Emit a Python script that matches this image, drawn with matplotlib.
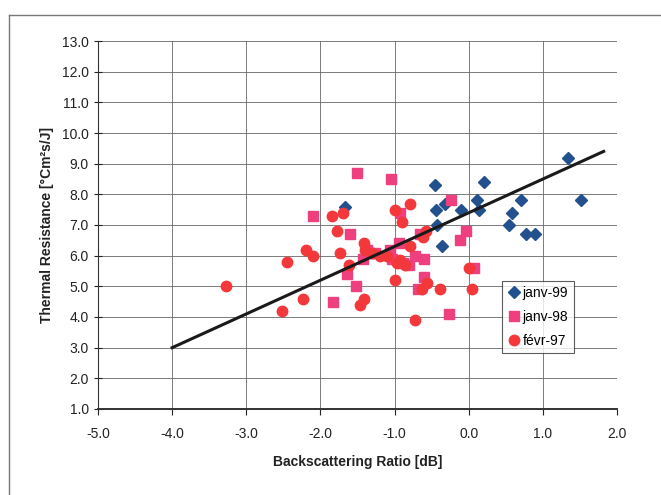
import matplotlib.pyplot as plt
from matplotlib.lines import Line2D

plt.rcParams['font.family'] = ['Liberation Sans', 'DejaVu Sans']

# janv-99 (diamonds)
x99 = [-1.67, -0.45, -0.44, -0.32, -0.43, -0.36, -0.11, 0.11, 0.14, 0.20,
       0.55, 0.59, 0.70, 0.77, 0.90, 1.34, 1.52]
y99 = [7.6, 8.3, 7.5, 7.7, 7.0, 6.3, 7.5, 7.8, 7.5, 8.4,
       7.0, 7.4, 7.8, 6.7, 6.7, 9.2, 7.8]

# janv-98 (squares)
x98 = [-1.51, -1.05, -2.10, -1.60, -0.24, -0.03, -0.12, -0.93, -0.66, -1.83,
       -1.52, -1.64, -0.26, 0.07, -0.68, -0.60, -0.60, -1.43, -1.37, -1.26,
       -1.06, -0.94, -1.03, -0.89, -0.81, -0.72, -1.33]
y98 = [8.7, 8.5, 7.3, 6.7, 7.8, 6.8, 6.5, 7.4, 6.7, 4.5,
       5.0, 5.4, 4.1, 5.6, 4.9, 5.3, 5.9, 5.9, 6.2, 6.1,
       6.2, 6.4, 5.9, 5.75, 5.7, 6.0, 6.1]

# fevr-97 (circles)
x97 = [-3.27, -2.52, -2.45, -2.24, -2.20, -2.10, -1.85, -1.69, -1.77, -1.73,
       -1.61, -1.47, -1.41, -1.41, -0.99, -0.90, -0.79, -0.99, -0.73, -0.63,
       -0.56, -0.39, 0.05, 0.01, -0.62, -0.57, -0.79, -1.40, -1.31, -1.20,
       -0.93, -0.86, -0.97, -1.10]
y97 = [5.0, 4.2, 5.8, 4.6, 6.2, 6.0, 7.3, 7.4, 6.8, 6.1,
       5.7, 4.4, 4.6, 6.4, 7.5, 7.1, 7.7, 5.2, 3.9, 4.9,
       5.1, 4.9, 4.9, 5.6, 6.6, 6.8, 6.3, 6.2, 6.1, 6.0,
       5.86, 5.7, 5.75, 6.0]

# trend line
trend_x = [-4.0, 1.82]
trend_y = [3.0, 9.4]

xticks = [-5, -4, -3, -2, -1, 0, 1, 2]
yticks = list(range(1, 14))

c99 = '#23518e'
c98 = '#ee3f7e'
c97 = '#f3383c'

fig = plt.figure(figsize=(6.61, 4.95), dpi=100)
ax = fig.add_axes([98 / 661, 1 - 409 / 495, 519 / 661, 368 / 495])

# faint outer frame of the chart area
fig.add_artist(Line2D([9 / 661, 9 / 661], [0, 1 - 15 / 495], color='#777777', lw=1))
fig.add_artist(Line2D([9 / 661, 1], [1 - 15 / 495, 1 - 15 / 495], color='#777777', lw=1))

ax.plot(x99, y99, 'D', color=c99, markersize=6, linestyle='none', label='janv-99', zorder=3)
ax.plot(x98, y98, 's', color=c98, markersize=7, linestyle='none', label='janv-98', zorder=3)
ax.plot(x97, y97, 'o', color=c97, markersize=7.5, linestyle='none', label='févr-97', zorder=3)
ax.plot(trend_x, trend_y, color='#1a1a1a', lw=2.2, zorder=4)

ax.set_xlim(-5, 2)
ax.set_ylim(1, 13)
ax.set_xticks(xticks)
ax.set_yticks(yticks)
ax.set_xticklabels(['%.1f' % v for v in xticks])
ax.set_yticklabels(['%.1f' % v for v in yticks])
ax.tick_params(labelsize=10, colors='#222222', length=4, width=0.8, direction='out')
ax.tick_params(axis='x', pad=9)
ax.tick_params(axis='y', direction='inout', length=6)
ax.grid(True, color='#666666', lw=0.6)
ax.set_axisbelow(True)

for s in ['top', 'right']:
    ax.spines[s].set_visible(False)
ax.spines['left'].set_color('#333333')
ax.spines['bottom'].set_color('#333333')
ax.spines['bottom'].set_linewidth(1.4)

ax.set_xlabel('Backscattering Ratio [dB]', fontsize=10, fontweight='bold', color='#222222', labelpad=10)
ax.set_ylabel('Thermal Resistance [°Cm²s/J]', fontsize=10, fontweight='bold', color='#222222', labelpad=6)

leg = ax.legend(loc='lower left', bbox_to_anchor=(0.778, 0.152), fontsize=10, frameon=True,
                fancybox=False, edgecolor='#333333', borderpad=0.4, handletextpad=0.1,
                handlelength=1.0, labelspacing=0.7, borderaxespad=0)
leg.get_frame().set_linewidth(0.8)

fig.savefig('out.png', dpi=100)
